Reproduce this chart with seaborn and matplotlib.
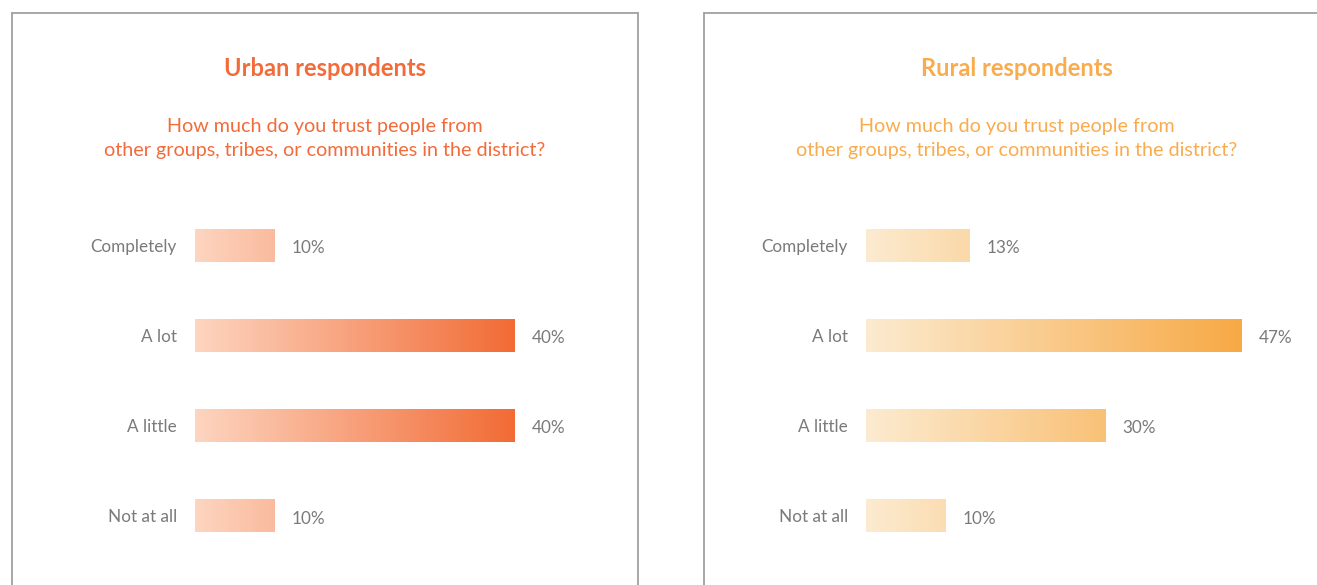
import matplotlib
matplotlib.use("Agg")
import matplotlib.pyplot as plt
from matplotlib.colors import LinearSegmentedColormap
from matplotlib.lines import Line2D
import seaborn as sns
import numpy as np
import pandas as pd

# Data
CATEGORIES = ["Completely", "A lot", "A little", "Not at all"]
URBAN_PCT = [10, 40, 40, 10]
RURAL_PCT = [13, 47, 30, 10]

PANEL_TITLES = ["Urban respondents", "Rural respondents"]
QUESTION = "How much do you trust people from\nother groups, tribes, or communities in the district?"

URBAN_COLORS = ("#FDD5C0", "#F26B35")
RURAL_COLORS = ("#FCEBD0", "#F7A945")
URBAN_TITLE = "#F26B3A"
RURAL_TITLE = "#F9AC4E"
GRAY_TEXT = "#7A7A7A"

sns.set_theme(style="white")
plt.rcParams["font.family"] = ["Lato", "DejaVu Sans"]

W, H = 1317, 585
fig = plt.figure(figsize=(W / 100, H / 100), dpi=100)


def px(x, y):
    """pixel (from top-left) -> figure fraction"""
    return x / W, 1 - y / H


def draw_panel(left_px, values, colors, title, title_color, center_px):
    df = pd.DataFrame({"answer": CATEGORIES, "pct": values})
    l, _ = px(left_px, 0)
    ax = fig.add_axes([l, (H - 561) / H, 400 / W, 361 / H])
    sns.barplot(data=df, x="pct", y="answer", orient="h", ax=ax,
                width=0.365, color="white")

    cmap = LinearSegmentedColormap.from_list("grad", list(colors))
    vmax = max(values)
    for patch, v in zip(ax.patches, values):
        y0, h = patch.get_y(), patch.get_height()
        patch.set_visible(False)
        grad = np.linspace(0, v / vmax, 256).reshape(1, -1)
        ax.imshow(grad, cmap=cmap, vmin=0, vmax=1, aspect="auto",
                  extent=(0, v, y0 + h, y0), interpolation="bilinear", zorder=2)
        ax.text(v + 2.1, y0 + h / 2 + 0.03, f"{v}%", va="center", ha="left",
                fontsize=12.3, color=GRAY_TEXT)
    ax.set_xlim(0, 50)
    ax.set_ylim(3.5, -0.5)

    ax.set_xlabel("")
    ax.set_ylabel("")
    ax.set_xticks([])
    ax.tick_params(axis="y", length=0, pad=13)
    for lab in ax.get_yticklabels():
        lab.set_fontsize(12.3)
        lab.set_color(GRAY_TEXT)
    for s in ax.spines.values():
        s.set_visible(False)

    cx, ty = px(center_px, 68)
    fig.text(cx, ty, title, ha="center", va="center", fontsize=17,
             fontweight="bold", color=title_color)
    _, qy = px(0, 138)
    fig.text(cx, qy, QUESTION, ha="center", va="center", fontsize=14.2,
             color=title_color, linespacing=1.5)


# Panel frames (top + sides, open at the bottom)
frame = dict(color="#A0A0A0", linewidth=1.3, transform=fig.transFigure)
for xs, ys in [((12, 12), (H, 13)), ((12, 638), (13, 13)), ((638, 638), (13, H)),
               ((704, 704), (H, 13)), ((704, W), (13, 13))]:
    fig.add_artist(Line2D([x / W for x in xs], [1 - y / H for y in ys], **frame))

draw_panel(195, URBAN_PCT, URBAN_COLORS, PANEL_TITLES[0], URBAN_TITLE, 325)
draw_panel(866, RURAL_PCT, RURAL_COLORS, PANEL_TITLES[1], RURAL_TITLE, 1017)

fig.savefig("out.png", dpi=100, facecolor="white")
